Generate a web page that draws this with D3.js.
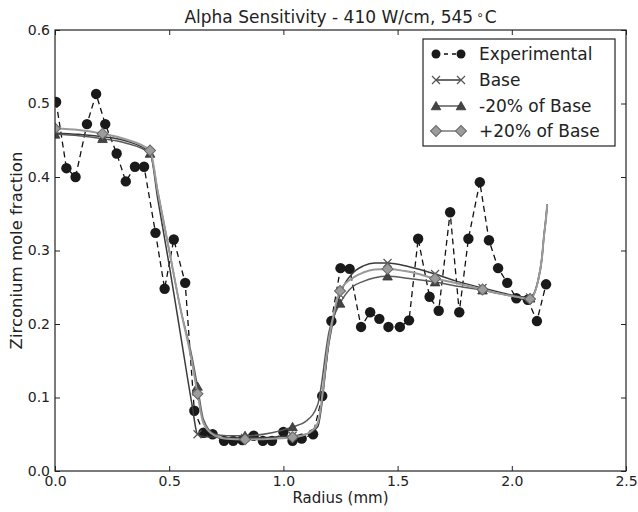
<!DOCTYPE html>
<html>
<head>
<meta charset="utf-8">
<script src="https://cdn.jsdelivr.net/npm/d3@7"></script>
<style>
  body { margin: 0; background: #fff; }
  text { font-family: "DejaVu Sans", sans-serif; fill: #222; }
</style>
</head>
<body>
<div id="chart"></div>
<script>
var width = 638, height = 512;
var margin = {top: 30, right: 12, bottom: 41, left: 55};

// experimental points
var expR = [0.005, 0.05, 0.09, 0.14, 0.18, 0.22, 0.27, 0.31, 0.35, 0.39, 0.44, 0.48, 0.52, 0.57, 0.61,
            0.65, 0.69, 0.74, 0.78, 0.82, 0.87, 0.91, 0.95, 1.00, 1.04, 1.08, 1.13, 1.17, 1.21, 1.25,
            1.29, 1.34, 1.38, 1.42, 1.46, 1.51, 1.55, 1.59, 1.64, 1.68, 1.73, 1.77, 1.81, 1.86, 1.90,
            1.94, 1.98, 2.02, 2.07, 2.11, 2.15];
var expZr = [0.502, 0.412, 0.400, 0.472, 0.513, 0.472, 0.432, 0.394, 0.414, 0.414, 0.324, 0.248, 0.315, 0.256, 0.082,
             0.052, 0.050, 0.041, 0.041, 0.042, 0.048, 0.041, 0.041, 0.053, 0.041, 0.044, 0.050, 0.102, 0.204, 0.276,
             0.275, 0.196, 0.216, 0.207, 0.196, 0.196, 0.205, 0.316, 0.237, 0.218, 0.352, 0.216, 0.316, 0.393, 0.314,
             0.276, 0.256, 0.235, 0.233, 0.204, 0.254];

// model curves (shared radius grid)
var modelR = [0, 0.104, 0.208, 0.312, 0.416, 0.45, 0.5, 0.55, 0.6, 0.624, 0.65, 0.7, 0.75, 0.832, 0.95,
              1.04, 1.1, 1.15, 1.2, 1.248, 1.3, 1.35, 1.4, 1.456, 1.55, 1.664, 1.75, 1.872, 1.95, 2.02,
              2.08, 2.115, 2.132, 2.14, 2.15, 2.155];
var baseZr = [0.460, 0.458, 0.455, 0.449, 0.433, 0.370, 0.280, 0.185, 0.090, 0.050, 0.047, 0.046, 0.045, 0.045, 0.046,
              0.048, 0.050, 0.060, 0.175, 0.240, 0.268, 0.279, 0.283, 0.283, 0.278, 0.268, 0.259, 0.249, 0.243, 0.238,
              0.236, 0.260, 0.291, 0.318, 0.346, 0.363];
var minusZr = [0.458, 0.456, 0.452, 0.446, 0.432, 0.380, 0.300, 0.220, 0.155, 0.115, 0.070, 0.050, 0.048, 0.048, 0.052,
               0.060, 0.068, 0.090, 0.190, 0.228, 0.250, 0.258, 0.263, 0.265, 0.262, 0.257, 0.252, 0.246, 0.241, 0.237,
               0.235, 0.258, 0.289, 0.316, 0.344, 0.361];
var plusZr = [0.466, 0.464, 0.459, 0.451, 0.436, 0.380, 0.300, 0.220, 0.148, 0.105, 0.065, 0.048, 0.044, 0.043, 0.044,
              0.046, 0.050, 0.065, 0.180, 0.245, 0.262, 0.270, 0.274, 0.275, 0.271, 0.262, 0.256, 0.247, 0.241, 0.237,
              0.234, 0.259, 0.290, 0.317, 0.345, 0.362];
// radii where model markers are drawn
var markR = [0, 0.208, 0.416, 0.624, 0.832, 1.04, 1.248, 1.456, 1.664, 1.872, 2.08];

var xTicks = [0, 0.5, 1.0, 1.5, 2.0, 2.5];
var yTicks = [0, 0.1, 0.2, 0.3, 0.4, 0.5, 0.6];
var legendLabels = ["Experimental", "Base", "-20% of Base", "+20% of Base"];

var svg = d3.select("#chart").append("svg")
  .attr("width", width).attr("height", height);

var x = d3.scaleLinear().domain([0, 2.5]).range([margin.left, width - margin.right]);
var y = d3.scaleLinear().domain([0, 0.6]).range([height - margin.bottom, margin.top]);

svg.append("clipPath").attr("id", "clip")
  .append("rect")
  .attr("x", x(0)).attr("y", y(0.6))
  .attr("width", x(2.5) - x(0)).attr("height", y(0) - y(0.6));

var plot = svg.append("g").attr("clip-path", "url(#clip)");

var series = [
  {name: "base", r: modelR, v: baseZr, color: "#3a3a3a", width: 1.5, marker: "x"},
  {name: "minus", r: modelR, v: minusZr, color: "#5a5a5a", width: 1.5, marker: "tri"},
  {name: "plus", r: modelR, v: plusZr, color: "#9a9a9a", width: 2, marker: "dia"}
];

var line = d3.line()
  .x(function(d){ return x(d[0]); })
  .y(function(d){ return y(d[1]); });

// experimental dashed line + circles
var expPts = expR.map(function(r, i){ return [r, expZr[i]]; });
plot.append("path")
  .attr("d", line(expPts))
  .attr("fill", "none").attr("stroke", "#111")
  .attr("stroke-width", 1.3).attr("stroke-dasharray", "6,4");
plot.selectAll(".exp").data(expPts).enter()
  .append("circle")
  .attr("class", "exp")
  .attr("cx", function(d){ return x(d[0]); })
  .attr("cy", function(d){ return y(d[1]); })
  .attr("r", 5.2)
  .attr("fill", "#1a1a1a");

var triSym = d3.symbol().type(d3.symbolTriangle).size(40);
var diaSym = d3.symbol().type(d3.symbolSquare).size(60);

function drawMarker(g, type, cx, cy){
  if (type === "x") {
    g.append("path")
      .attr("d", "M" + (cx-4) + "," + (cy-4) + "L" + (cx+4) + "," + (cy+4) +
                 "M" + (cx-4) + "," + (cy+4) + "L" + (cx+4) + "," + (cy-4))
      .attr("stroke", "#555").attr("stroke-width", 1.2).attr("fill", "none");
  } else if (type === "tri") {
    g.append("path")
      .attr("d", triSym())
      .attr("transform", "translate(" + cx + "," + (cy+1) + ")")
      .attr("fill", "#444").attr("stroke", "#333").attr("stroke-width", 0.8);
  } else {
    g.append("path")
      .attr("d", diaSym())
      .attr("transform", "translate(" + cx + "," + cy + ") rotate(45)")
      .attr("fill", "#9c9c9c").attr("stroke", "#666").attr("stroke-width", 1);
  }
}

series.forEach(function(s){
  var pts = s.r.map(function(r, i){ return [r, s.v[i]]; });
  plot.append("path")
    .attr("d", line.curve(d3.curveMonotoneX)(pts))
    .attr("fill", "none").attr("stroke", s.color)
    .attr("stroke-width", s.width);
  line.curve(d3.curveLinear);
  pts.filter(function(d){ return markR.indexOf(d[0]) >= 0; }).forEach(function(d){
    drawMarker(plot, s.marker, x(d[0]), y(d[1]));
  });
});

// axes, ticks pointing inward on all four sides
var fmt = d3.format(".1f");
var axB = svg.append("g").attr("transform", "translate(0," + y(0) + ")")
  .call(d3.axisBottom(x).tickValues(xTicks).tickFormat(fmt).tickSizeInner(-5).tickSizeOuter(0).tickPadding(5));
var axT = svg.append("g").attr("transform", "translate(0," + y(0.6) + ")")
  .call(d3.axisTop(x).tickValues(xTicks).tickFormat("").tickSizeInner(-5).tickSizeOuter(0));
var axL = svg.append("g").attr("transform", "translate(" + x(0) + ",0)")
  .call(d3.axisLeft(y).tickValues(yTicks).tickFormat(fmt).tickSizeInner(-5).tickSizeOuter(0).tickPadding(5));
var axR = svg.append("g").attr("transform", "translate(" + x(2.5) + ",0)")
  .call(d3.axisRight(y).tickValues(yTicks).tickFormat("").tickSizeInner(-5).tickSizeOuter(0));
[axB, axT, axL, axR].forEach(function(a){
  a.select(".domain").remove();
  a.selectAll("line").attr("stroke", "#222");
  a.selectAll("text").style("font-family", "DejaVu Sans").style("font-size", "14px").attr("fill", "#222");
});

svg.append("rect")
  .attr("x", x(0)).attr("y", y(0.6))
  .attr("width", x(2.5) - x(0)).attr("height", y(0) - y(0.6))
  .attr("fill", "none").attr("stroke", "#222").attr("stroke-width", 1.2);

// title and axis labels
var title = svg.append("text")
  .attr("x", (x(0) + x(2.5)) / 2).attr("y", 23)
  .attr("text-anchor", "middle").style("font-size", "17px")
  .text("Alpha Sensitivity - 410 W/cm, 545");
title.append("tspan").attr("dx", 3).style("font-size", "12px").attr("dy", -4).text("∘");
title.append("tspan").attr("dx", 1).attr("dy", 4).text("C");

svg.append("text")
  .attr("x", (x(0) + x(2.5)) / 2).attr("y", 503)
  .attr("text-anchor", "middle").style("font-size", "15px")
  .text("Radius (mm)");

svg.append("text")
  .attr("transform", "translate(22," + ((y(0) + y(0.6)) / 2) + ") rotate(-90)")
  .attr("text-anchor", "middle").style("font-size", "16.5px")
  .text("Zirconium mole fraction");

// legend
var leg = svg.append("g");
leg.append("rect")
  .attr("x", 423).attr("y", 39).attr("width", 192).attr("height", 107)
  .attr("fill", "#fff").attr("stroke", "#222").attr("stroke-width", 1.2);
var rowY = [54, 80, 106, 131];
var legStyles = [
  {color: "#111", dash: "4,4", marker: "circle", width: 1.3},
  {color: "#3a3a3a", dash: null, marker: "x", width: 1.5},
  {color: "#5a5a5a", dash: null, marker: "tri", width: 1.5},
  {color: "#9a9a9a", dash: null, marker: "dia", width: 2}
];
legendLabels.forEach(function(lbl, i){
  var st = legStyles[i], yy = rowY[i];
  leg.append("line")
    .attr("x1", 436).attr("x2", 461).attr("y1", yy).attr("y2", yy)
    .attr("stroke", st.color).attr("stroke-width", st.width)
    .attr("stroke-dasharray", st.dash);
  [436, 461].forEach(function(cx){
    if (st.marker === "circle") {
      leg.append("circle").attr("cx", cx).attr("cy", yy).attr("r", 4.5).attr("fill", "#1a1a1a");
    } else {
      drawMarker(leg, st.marker, cx, yy);
    }
  });
  leg.append("text")
    .attr("x", 479).attr("y", yy).attr("dy", "0.35em")
    .style("font-size", "17px")
    .text(lbl);
});
</script>
</body>
</html>
